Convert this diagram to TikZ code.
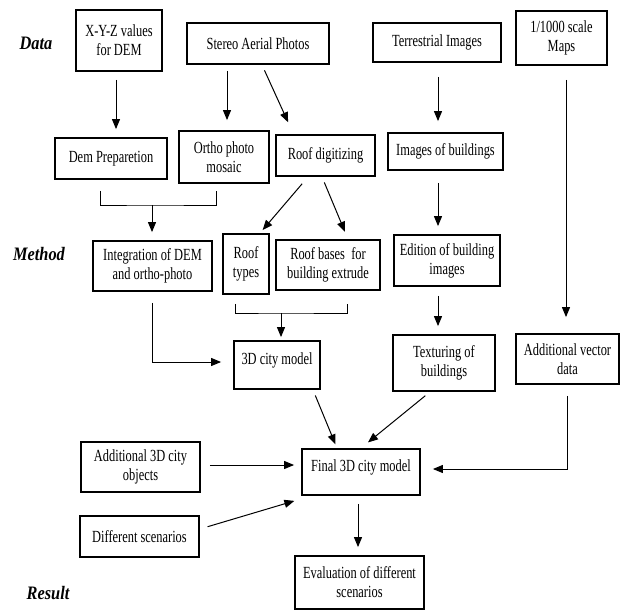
\documentclass[tikz,border=0pt]{standalone}
\usepackage{fontspec}
\setmainfont{Liberation Serif}[FakeStretch=0.73]
\newfontfamily\labfont{Liberation Serif}[FakeStretch=0.86]
\usetikzlibrary{arrows.meta}
\begin{document}
\begin{tikzpicture}[x=1pt,y=-1pt,
  box/.style={draw, line width=1.8pt, align=center, inner sep=2pt,
    font=\fontsize{17}{19}\selectfont},
  toptext/.style={text depth=13pt},
  lab/.style={font=\labfont\fontsize{19}{22}\selectfont\bfseries\itshape},
  ln/.style={line width=1pt},
  arr/.style={line width=1pt, -{Triangle[length=10pt,width=8pt]}}]
\useasboundingbox (0,0) rectangle (621,610);

% labels
\node[lab] (ldata) at (36,43) {Data};
\node[lab] (lmethod) at (39,254) {Method};
\node[lab] (lresult) at (48,593) {Result};

% boxes
\node[box, minimum width=86pt, minimum height=61pt] (xyz) at (119,40.5) {X-Y-Z values\\for DEM};
\node[box, minimum width=142pt, minimum height=41pt] (stereo) at (258,43.5) {Stereo Aerial Photos};
\node[box, minimum width=128pt, minimum height=39pt] (terr) at (437,42.5) {Terrestrial Images};
\node[box, minimum width=91pt, minimum height=54pt] (maps) at (561.5,38) {1/1000 scale\\Maps};
\node[box, minimum width=112pt, minimum height=41pt] (dem) at (111,158.5) {Dem Preparetion};
\node[box, minimum width=90pt, minimum height=52pt] (ortho) at (224,157) {Ortho photo\\mosaic};
\node[box, minimum width=99pt, minimum height=41pt] (roofdig) at (325.5,155.5) {Roof digitizing};
\node[box, minimum width=115pt, minimum height=37pt] (imgs) at (445.5,151.5) {Images of buildings};
\node[box, minimum width=119pt, minimum height=50pt] (integ) at (152.5,266) {Integration of DEM\\and ortho-photo};
\node[box, minimum width=46pt, minimum height=60pt] (rtypes) at (246,264) {Roof\\types};
\node[box, minimum width=104pt, minimum height=50pt] (rbases) at (328,265) {Roof bases\ \ for\\building extrude};
\node[box, minimum width=106pt, minimum height=51pt] (edition) at (447,260.5) {Edition of building\\images};
\node[box, toptext, minimum width=86pt, minimum height=48pt] (city) at (277,365) {3D city model};
\node[box, minimum width=102pt, minimum height=56pt] (textur) at (444,363) {Texturing of\\buildings};
\node[box, minimum width=103pt, minimum height=50pt] (addvec) at (567.5,359) {Additional vector\\data};
\node[box, minimum width=119pt, minimum height=50pt] (add3d) at (140.5,467) {Additional 3D city\\objects};
\node[box, minimum width=119pt, minimum height=41pt] (diff) at (139.5,536.5) {Different scenarios};
\node[box, toptext, minimum width=118pt, minimum height=46pt] (final) at (361,472) {Final 3D city model};
\node[box, minimum width=129pt, minimum height=53pt] (eval) at (359.5,582.5) {Evaluation of different\\scenarios};

% bracket points
\coordinate (b1) at (152,205);
\coordinate (b2) at (281,313);

% connectors
\draw[arr, shorten <=8pt, shorten >=8pt] ([xshift=-3pt]xyz.south) -- ([xshift=-3pt]xyz.south |- dem.north);
\draw[arr, shorten <=6pt, shorten >=10pt] ([xshift=3pt]ortho.north |- stereo.south) -- ([xshift=3pt]ortho.north);
\draw[arr, shorten <=6pt, shorten >=13pt] ([xshift=4pt]stereo.south) -- ([xshift=-32pt]roofdig.north);
\draw[arr, shorten <=14pt, shorten >=11pt] ([xshift=1pt]terr.south) -- ([xshift=1pt]terr.south |- imgs.north);
\draw[arr, shorten <=14pt, shorten >=16pt] ([xshift=4.5pt]maps.south) -- ([xshift=4.5pt]maps.south |- addvec.north);

\draw[ln] ([xshift=-11pt,yshift=-11pt]dem.south) |- (b1) -| ([xshift=-8pt,yshift=-7pt]ortho.south);
\draw[arr, shorten >=8pt] (b1) -- (b1 |- integ.north);

\draw[arr, shorten <=9pt, shorten >=4pt] ([xshift=-17.5pt]roofdig.south) -- ([xshift=14pt]rtypes.north);
\draw[arr, shorten <=6pt, shorten >=8pt] ([xshift=-3.5pt]roofdig.south) -- ([xshift=20pt]rbases.north);

\draw[ln] ([xshift=-11pt,yshift=-9pt]rtypes.south) |- (b2) -| ([xshift=19pt,yshift=-13pt]rbases.south);
\draw[arr, shorten >=3pt] (b2) -- (b2 |- city.north);

\draw[arr, shorten >=12pt] ([yshift=-11pt]integ.south) |- ([yshift=3pt]city.west);

\draw[arr, shorten <=12pt, shorten >=8pt] ([xshift=-7.5pt]imgs.south) -- ([xshift=-7.5pt]imgs.south |- edition.north);
\draw[arr, shorten <=9pt, shorten >=8pt] ([xshift=-9pt]edition.south) -- ([xshift=-9pt]edition.south |- textur.north);

\draw[arr, shorten <=6pt, shorten >=4pt] ([xshift=36pt]city.south) -- ([xshift=-24pt]final.north);
\draw[arr, shorten <=6pt, shorten >=9pt] ([xshift=-14pt]textur.south) -- (final.north);
\draw[arr, shorten >=12pt] ([yshift=-11pt]addvec.south) |- ([yshift=3pt]final.east);
\draw[arr, shorten <=9pt, shorten >=7pt] ([yshift=2pt]add3d.east) -- ([yshift=2pt]add3d.east -| final.west);
\draw[arr, shorten <=8pt, shorten >=7pt] ([yshift=7.5pt]diff.east) -- ([yshift=-3pt]final.south west);
\draw[arr, shorten <=8pt, shorten >=8pt] ([xshift=-3pt]final.south) -- ([xshift=-3pt]final.south |- eval.north);
\end{tikzpicture}
\end{document}
